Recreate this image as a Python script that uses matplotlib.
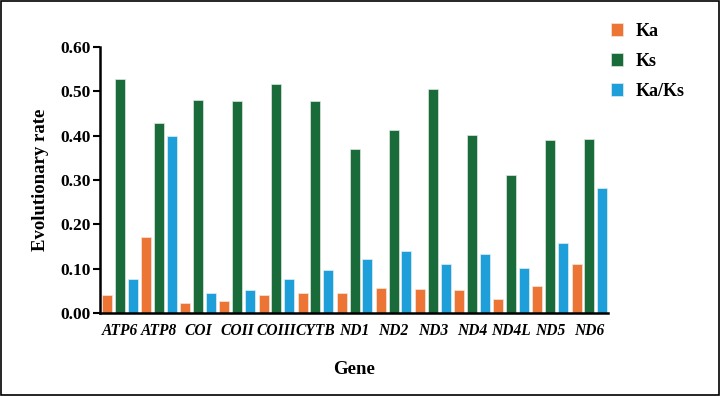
import matplotlib
matplotlib.use('Agg')
import matplotlib.pyplot as plt
import numpy as np

genes = ['ATP6', 'ATP8', 'COI', 'COII', 'COIII', 'CYTB', 'ND1', 'ND2',
         'ND3', 'ND4', 'ND4L', 'ND5', 'ND6']
ka = [0.040, 0.171, 0.022, 0.026, 0.040, 0.046, 0.045, 0.057, 0.055, 0.053, 0.031, 0.062, 0.110]
ks = [0.528, 0.429, 0.481, 0.479, 0.517, 0.478, 0.370, 0.413, 0.506, 0.401, 0.311, 0.390, 0.393]
kaks = [0.077, 0.399, 0.046, 0.053, 0.076, 0.096, 0.121, 0.139, 0.110, 0.133, 0.101, 0.159, 0.282]

plt.rcParams['font.family'] = ['Liberation Serif', 'DejaVu Serif']
plt.rcParams['font.weight'] = 'bold'

fig = plt.figure(figsize=(7.2, 3.96), dpi=100)
ax = fig.add_axes([0.139, 0.2096, 0.705, 0.6714])

x = np.arange(len(genes))
step = 0.325
w = 0.256
c_ka, c_ks, c_kaks = '#EC7434', '#1A6B3A', '#1E9FD9'
ax.bar(x - step, ka, w, color=c_ka, edgecolor='#f3e8e0', linewidth=0.5, label='Ka')
ax.bar(x, ks, w, color=c_ks, edgecolor='#dfe8e0', linewidth=0.5, label='Ks')
ax.bar(x + step, kaks, w, color=c_kaks, edgecolor='#e0eef5', linewidth=0.5, label='Ka/Ks')

ax.set_xlim(-0.505, 12.47)
ax.set_ylim(0, 0.6)
ax.set_yticks(np.arange(0, 0.61, 0.1))
ax.set_yticklabels(['%.2f' % v for v in np.arange(0, 0.61, 0.1)], fontsize=12.5, fontweight='bold')
ax.set_xticks(x)
ax.set_xticklabels(genes, fontsize=11.2, fontweight='bold', style='italic')
ax.tick_params(axis='x', length=0, pad=7)
ax.tick_params(axis='y', length=5, width=1.5, pad=2)

for s in ['top', 'right']:
    ax.spines[s].set_visible(False)
for s in ['left', 'bottom']:
    ax.spines[s].set_linewidth(1.8)

ax.set_ylabel('Evolutionary rate', fontsize=13.5, fontweight='bold', labelpad=8)
ax.set_xlabel('Gene', fontsize=13.5, fontweight='bold', labelpad=16)

leg = fig.legend(loc='upper left', bbox_to_anchor=(0.848, 0.942), frameon=False,
                 prop={'size': 13, 'weight': 'bold'}, handlelength=0.67,
                 handleheight=0.67, labelspacing=0.72, handletextpad=0.7,
                 borderpad=0, borderaxespad=0)

fig.patches.append(plt.Rectangle((0.001, 0.002), 0.997, 0.995, transform=fig.transFigure,
                                 fill=False, edgecolor='black', linewidth=1.2))

fig.savefig('out.png', dpi=100)
